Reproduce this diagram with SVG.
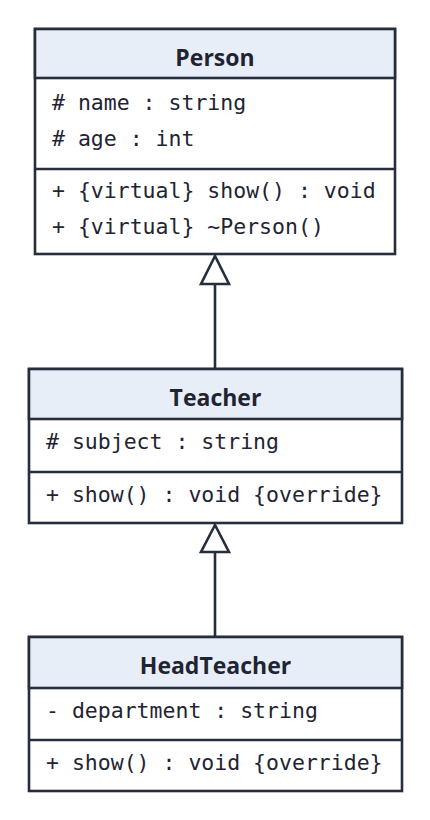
<svg xmlns="http://www.w3.org/2000/svg" width="430" height="820" viewBox="0 0 430 820">
<defs>
<style>
.box{fill:#ffffff;stroke:#262d3d;stroke-width:2.6}
.hdr{fill:#e8eef7;stroke:#262d3d;stroke-width:2.6}
.div{stroke:#262d3d;stroke-width:2.6}
.title{font-family:"Open Sans","Noto Sans","DejaVu Sans",sans-serif;font-weight:bold;font-size:23px;fill:#1f2433;text-anchor:middle}
.mem{font-family:"DejaVu Sans Mono","Liberation Mono",monospace;font-size:21.5px;fill:#1f2433}
.edge{stroke:#262d3d;stroke-width:2.6;fill:none}
.tri{fill:#ffffff;stroke:#262d3d;stroke-width:2.6;stroke-linejoin:miter}
</style>
</defs>
<rect width="430" height="820" fill="#ffffff"/>
<g id="connectors">
<line class="edge" x1="215" y1="284" x2="215" y2="369"/>
<polygon class="tri" points="215,256 201,284 229,284"/>
<line class="edge" x1="215" y1="552" x2="215" y2="637"/>
<polygon class="tri" points="215,525 201,552 229,552"/>
</g>
<g id="Person">
<rect class="box" x="35" y="29" width="360" height="225"/>
<rect class="hdr" x="35" y="29" width="360" height="49"/>
<line class="div" x1="35" y1="169" x2="395" y2="169"/>
<text class="title" x="215" y="66">Person</text>
<text class="mem" x="52" y="110"># name : string</text>
<text class="mem" x="52" y="146"># age : int</text>
<text class="mem" x="52" y="198">+ {virtual} show() : void</text>
<text class="mem" x="52" y="234">+ {virtual} ~Person()</text>
</g>
<g id="Teacher">
<rect class="box" x="29" y="369" width="373" height="154"/>
<rect class="hdr" x="29" y="369" width="373" height="50"/>
<line class="div" x1="29" y1="472" x2="402" y2="472"/>
<text class="title" x="215.5" y="406">Teacher</text>
<text class="mem" x="46" y="449"># subject : string</text>
<text class="mem" x="46" y="502">+ show() : void {override}</text>
</g>
<g id="HeadTeacher">
<rect class="box" x="29" y="637" width="373" height="154"/>
<rect class="hdr" x="29" y="637" width="373" height="51"/>
<line class="div" x1="29" y1="740" x2="402" y2="740"/>
<text class="title" x="215.5" y="674">HeadTeacher</text>
<text class="mem" x="46" y="718">- department : string</text>
<text class="mem" x="46" y="770">+ show() : void {override}</text>
</g>
</svg>
